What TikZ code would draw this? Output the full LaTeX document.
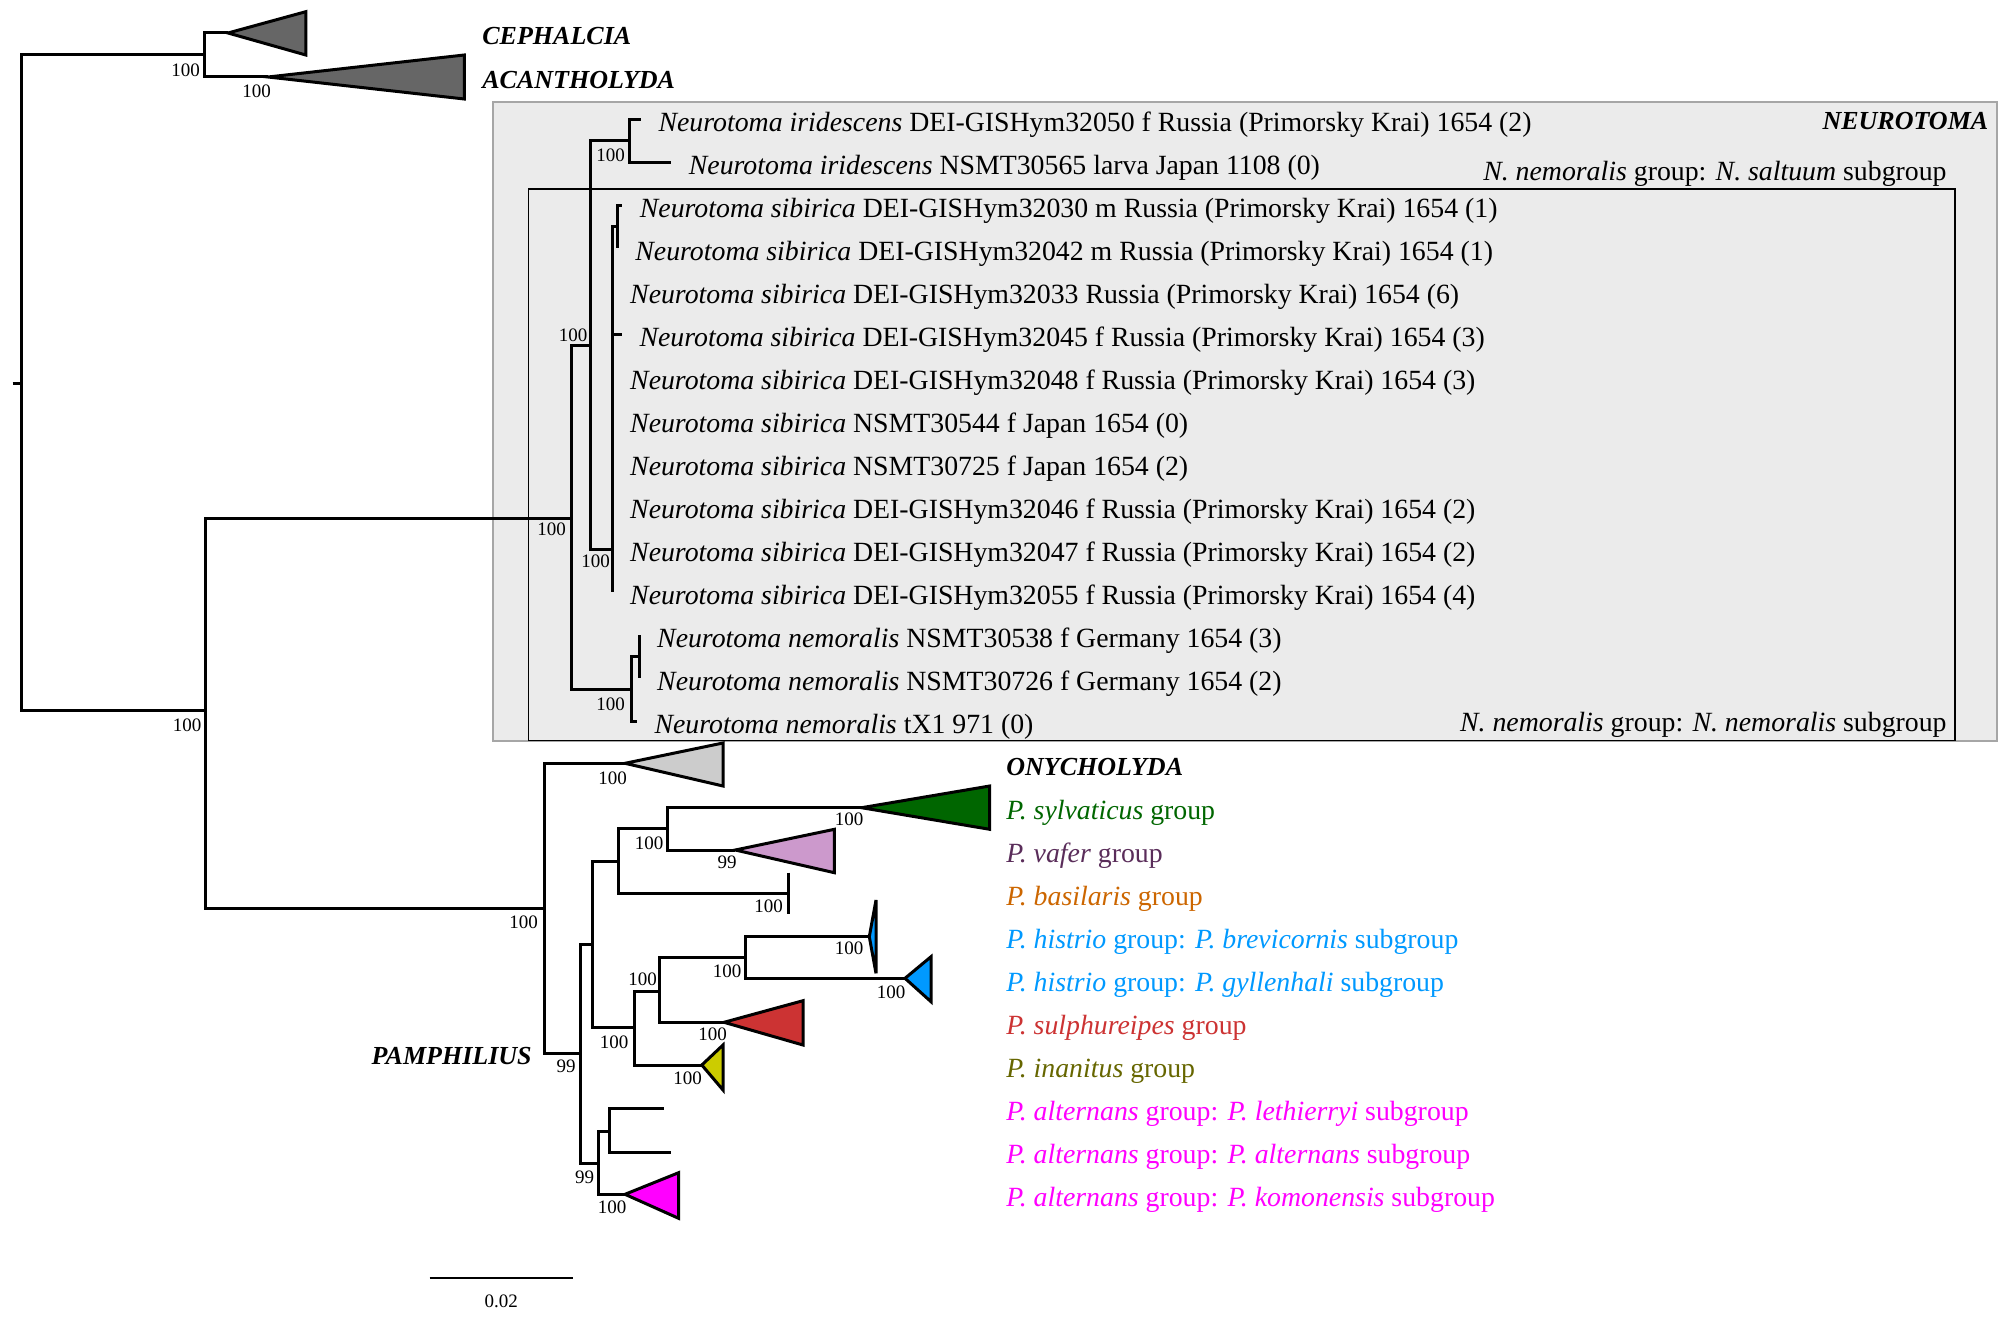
\documentclass[tikz,border=0pt]{standalone}
\usepackage{fontspec}
\setmainfont{Liberation Serif}
\definecolor{cladedark}{RGB}{102,102,102}
\definecolor{cladelight}{RGB}{204,204,204}
\definecolor{boxfill}{RGB}{235,235,235}
\definecolor{boxline}{RGB}{166,166,166}
\definecolor{sylvgreen}{RGB}{0,102,0}
\definecolor{vaferlilac}{RGB}{204,153,204}
\definecolor{vafertext}{RGB}{90,45,90}
\definecolor{basilorange}{RGB}{204,102,0}
\definecolor{histrioblue}{RGB}{0,153,255}
\definecolor{sulphred}{RGB}{204,51,51}
\definecolor{inanyellow}{RGB}{204,204,0}
\definecolor{inantext}{RGB}{102,102,0}
\definecolor{altmagenta}{RGB}{255,0,255}

\begin{document}
\begin{tikzpicture}[
    x=0.5pt, y=-0.5pt,
    branch/.style={line width=1.5pt},
    clade/.style={draw=black, line width=1.5pt},
    tax/.style={anchor=base west, inner sep=0pt, xshift=8.75pt, yshift=-6.25pt, font=\fontsize{13.9}{16}\selectfont},
    leg/.style={anchor=base west, inner sep=0pt, font=\fontsize{13.9}{16}\selectfont},
    boot/.style={inner sep=0pt, font=\fontsize{9.5}{11}\selectfont},
    big/.style={inner sep=0pt, font=\fontsize{13}{15}\selectfont\bfseries\itshape}
  ]
  \useasboundingbox (0,0) rectangle (2012,1321);

  \draw[draw=boxline, fill=boxfill, line width=1pt] (493,102) rectangle (1996.8,740.5);
  \draw[line width=0.9pt] (528.5,189) rectangle (1954.6,740.5);

  \coordinate (rtick) at (12.5,383);
  \coordinate (root) at (21.5,383);
  \coordinate (og) at (204.5,55);
  \coordinate (ceph) at (228,33);
  \coordinate (acan) at (268,77);
  \coordinate (ingr) at (205,710);
  \coordinate (neu) at (571.8,518);
  \coordinate (irsib) at (590.7,345);
  \coordinate (iri) at (629.5,140.8);
  \coordinate (tip1) at (640.7,119.3);
  \coordinate (tip2) at (671,162.3);
  \coordinate (sib) at (612.3,549.3);
  \coordinate (sibsub) at (617.5,226.8);
  \coordinate (tip3) at (622,205.3);
  \coordinate (tip4) at (617.5,248.3);
  \coordinate (tip5) at (612.3,291.3);
  \coordinate (tip6) at (621.7,334.3);
  \coordinate (tip7) at (612.3,377.3);
  \coordinate (tip8) at (612.3,420.3);
  \coordinate (tip9) at (612.3,463.3);
  \coordinate (tip10) at (612.3,506.3);
  \coordinate (tip11) at (612.3,549.3);
  \coordinate (tip12) at (612.3,592.3);
  \coordinate (nem) at (631.7,689.5);
  \coordinate (nemsub) at (639.3,656.8);
  \coordinate (tip13) at (639.3,635.3);
  \coordinate (tip14) at (639.3,678.3);
  \coordinate (tip15) at (636.7,721.3);

  \coordinate (po) at (544.6,908);
  \coordinate (ony) at (625,763.3);
  \coordinate (pam) at (580.4,1053.3);
  \coordinate (pa1) at (592.4,944.3);
  \coordinate (pa2) at (618.8,861);
  \coordinate (pa3) at (667.4,828.3);
  \coordinate (sylv) at (861.6,807.7);
  \coordinate (vafer) at (735.3,850);
  \coordinate (basil) at (788,893.3);
  \coordinate (pa4) at (634.8,1027.7);
  \coordinate (pa5) at (659.4,991);
  \coordinate (pa6) at (745,957.7);
  \coordinate (brev) at (869.3,936.7);
  \coordinate (gyll) at (905,978.3);
  \coordinate (sulph) at (724,1022.3);
  \coordinate (inan) at (701.8,1065);
  \coordinate (pa7) at (598.2,1163.3);
  \coordinate (pa8) at (609,1131);
  \coordinate (leth) at (663.8,1108.3);
  \coordinate (alte) at (670.5,1152.3);
  \coordinate (komo) at (625,1194.3);

  \draw[branch] (rtick) -- (root);
  \draw[branch] (root) |- (og) (root) |- (ingr);
  \draw[branch] (og) |- (ceph) (og) |- (acan);
  \draw[branch] (ingr) |- (neu) (ingr) |- (po);
  \draw[branch] (neu) |- (irsib) (neu) |- (nem);
  \draw[branch] (irsib) |- (iri) (irsib) |- (sib);
  \draw[branch] (iri) |- (tip1) (iri) |- (tip2);
  \draw[branch] (sib) |- (sibsub) (sibsub) |- (tip3) (sibsub) |- (tip4);
  \draw[branch] (sib) |- (tip5) (sib) |- (tip6) (sib) |- (tip7) (sib) |- (tip8)
    (sib) |- (tip9) (sib) |- (tip10) (sib) |- (tip11) (sib) |- (tip12);
  \draw[branch] (nem) |- (nemsub) (nem) |- (tip15);
  \draw[branch] (nemsub) |- (tip13) (nemsub) |- (tip14);

  \draw[branch] (po) |- (ony) (po) |- (pam);
  \draw[branch] (pam) |- (pa1) (pam) |- (pa7);
  \draw[branch] (pa1) |- (pa2) (pa1) |- (pa4);
  \draw[branch] (pa2) |- (pa3) (pa2) |- (basil);
  \draw[branch] (pa3) |- (sylv) (pa3) |- (vafer);
  \draw[branch] (pa4) |- (pa5) (pa4) |- (inan);
  \draw[branch] (pa5) |- (pa6) (pa5) |- (sulph);
  \draw[branch] (pa6) |- (brev) (pa6) |- (gyll);
  \draw[branch] (pa7) |- (pa8) (pa7) |- (komo);
  \draw[branch] (pa8) |- (leth) (pa8) |- (alte);

  \draw[clade, fill=cladedark] (ceph) -- (305.8,11.7) -- (305.8,55) -- cycle;
  \draw[clade, fill=cladedark] (acan) -- (464.3,55) -- (464.3,99) -- cycle;
  \draw[clade, fill=cladelight] (ony) -- (723,743) -- (723,786) -- cycle;
  \draw[clade, fill=sylvgreen] (sylv) -- (989.7,786) -- (989.7,829.3) -- cycle;
  \draw[clade, fill=vaferlilac] (vafer) -- (834.4,829.3) -- (834.4,872.7) -- cycle;
  \draw[branch] (788,872.7) -- (788,914.3);
  \draw[clade, fill=histrioblue] (brev) -- (876,900) -- (876,973.3) -- cycle;
  \draw[clade, fill=histrioblue] (gyll) -- (931,956.7) -- (931,1001.7) -- cycle;
  \draw[clade, fill=sulphred] (sulph) -- (803,1000.7) -- (803,1045) -- cycle;
  \draw[clade, fill=inanyellow] (inan) -- (723,1045) -- (723,1090) -- cycle;
  \draw[clade, fill=altmagenta] (komo) -- (678.6,1172.7) -- (678.6,1218.3) -- cycle;

  \node[boot] (b1) at (185.5,70) {100};
  \node[boot] (b2) at (256.5,91) {100};
  \node[boot] (b3) at (610.5,155.5) {100};
  \node[boot] (b4) at (573,335) {100};
  \node[boot] (b5) at (551.5,529) {100};
  \node[boot] (b6) at (595.5,561.5) {100};
  \node[boot] (b7) at (610.5,704) {100};
  \node[boot] (b8) at (187,725) {100};
  \node[boot] (b9) at (523.5,922.5) {100};
  \node[boot] (b10) at (612.5,778) {100};
  \node[boot] (b11) at (566,1066) {99};
  \node[boot] (b12) at (649,843) {100};
  \node[boot] (b13) at (849,819) {100};
  \node[boot] (b14) at (727,862.5) {99};
  \node[boot] (b15) at (768.5,906.5) {100};
  \node[boot] (b16) at (614,1042.5) {100};
  \node[boot] (b17) at (642.5,979) {100};
  \node[boot] (b18) at (727,971) {100};
  \node[boot] (b19) at (849,948) {100};
  \node[boot] (b20) at (891,992.5) {100};
  \node[boot] (b21) at (712.5,1034) {100};
  \node[boot] (b22) at (687.5,1078.5) {100};
  \node[boot] (b23) at (584.5,1177) {99};
  \node[boot] (b24) at (612,1207.5) {100};

  \node[tax] (t1) at (tip1) {\textit{Neurotoma iridescens} DEI-GISHym32050 f Russia (Primorsky Krai) 1654 (2)};
  \node[tax] (t2) at (tip2) {\textit{Neurotoma iridescens} NSMT30565 larva Japan 1108 (0)};
  \node[tax] (t3) at (tip3) {\textit{Neurotoma sibirica} DEI-GISHym32030 m Russia (Primorsky Krai) 1654 (1)};
  \node[tax] (t4) at (tip4) {\textit{Neurotoma sibirica} DEI-GISHym32042 m Russia (Primorsky Krai) 1654 (1)};
  \node[tax] (t5) at (tip5) {\textit{Neurotoma sibirica} DEI-GISHym32033 Russia (Primorsky Krai) 1654 (6)};
  \node[tax] (t6) at (tip6) {\textit{Neurotoma sibirica} DEI-GISHym32045 f Russia (Primorsky Krai) 1654 (3)};
  \node[tax] (t7) at (tip7) {\textit{Neurotoma sibirica} DEI-GISHym32048 f Russia (Primorsky Krai) 1654 (3)};
  \node[tax] (t8) at (tip8) {\textit{Neurotoma sibirica} NSMT30544 f Japan 1654 (0)};
  \node[tax] (t9) at (tip9) {\textit{Neurotoma sibirica} NSMT30725 f Japan 1654 (2)};
  \node[tax] (t10) at (tip10) {\textit{Neurotoma sibirica} DEI-GISHym32046 f Russia (Primorsky Krai) 1654 (2)};
  \node[tax] (t11) at (tip11) {\textit{Neurotoma sibirica} DEI-GISHym32047 f Russia (Primorsky Krai) 1654 (2)};
  \node[tax] (t12) at (tip12) {\textit{Neurotoma sibirica} DEI-GISHym32055 f Russia (Primorsky Krai) 1654 (4)};
  \node[tax] (t13) at (tip13) {\textit{Neurotoma nemoralis} NSMT30538 f Germany 1654 (3)};
  \node[tax] (t14) at (tip14) {\textit{Neurotoma nemoralis} NSMT30726 f Germany 1654 (2)};
  \node[tax] (t15) at (tip15) {\textit{Neurotoma nemoralis} tX1 971 (0)};

  \node[big, anchor=base west] (cephl) at (482,45) {CEPHALCIA};
  \node[big, anchor=base west] (acanl) at (482,88.3) {ACANTHOLYDA};
  \node[big, anchor=base east] (neul) at (1988.6,130) {NEUROTOMA};
  \node[big, anchor=base west] (onyl) at (1006,775) {ONYCHOLYDA};
  \node[big, anchor=base east] (paml) at (532,1064.3) {PAMPHILIUS};

  \node[leg, anchor=base east] (saltuum) at (1947,181) {\textit{N. nemoralis} group: \textit{N. saltuum} subgroup};
  \node[leg, anchor=base east] (nemsubl) at (1947,731) {\textit{N. nemoralis} group: \textit{N. nemoralis} subgroup};

  \node[leg, text=sylvgreen] (l1) at (1006,819.3) {\textit{P. sylvaticus} group};
  \node[leg, text=vafertext] (l2) at (1006,862.3) {\textit{P. vafer} group};
  \node[leg, text=basilorange] (l3) at (1006,905.3) {\textit{P. basilaris} group};
  \node[leg, text=histrioblue] (l4) at (1006,948.3) {\textit{P. histrio} group: \textit{P. brevicornis} subgroup};
  \node[leg, text=histrioblue] (l5) at (1006,991.3) {\textit{P. histrio} group: \textit{P. gyllenhali} subgroup};
  \node[leg, text=sulphred] (l6) at (1006,1034.3) {\textit{P. sulphureipes} group};
  \node[leg, text=inantext] (l7) at (1006,1077.3) {\textit{P. inanitus} group};
  \node[leg, text=altmagenta] (l8) at (1006,1120.3) {\textit{P. alternans} group: \textit{P. lethierryi} subgroup};
  \node[leg, text=altmagenta] (l9) at (1006,1163.3) {\textit{P. alternans} group: \textit{P. alternans} subgroup};
  \node[leg, text=altmagenta] (l10) at (1006,1206.3) {\textit{P. alternans} group: \textit{P. komonensis} subgroup};

  \coordinate (sbl) at (429.5,1277.7);
  \coordinate (sbr) at (573.2,1277.7);
  \draw[line width=1pt] (sbl) -- (sbr);
  \node[boot] (sbtext) at (501.3,1301.7) {0.02};
\end{tikzpicture}
\end{document}
